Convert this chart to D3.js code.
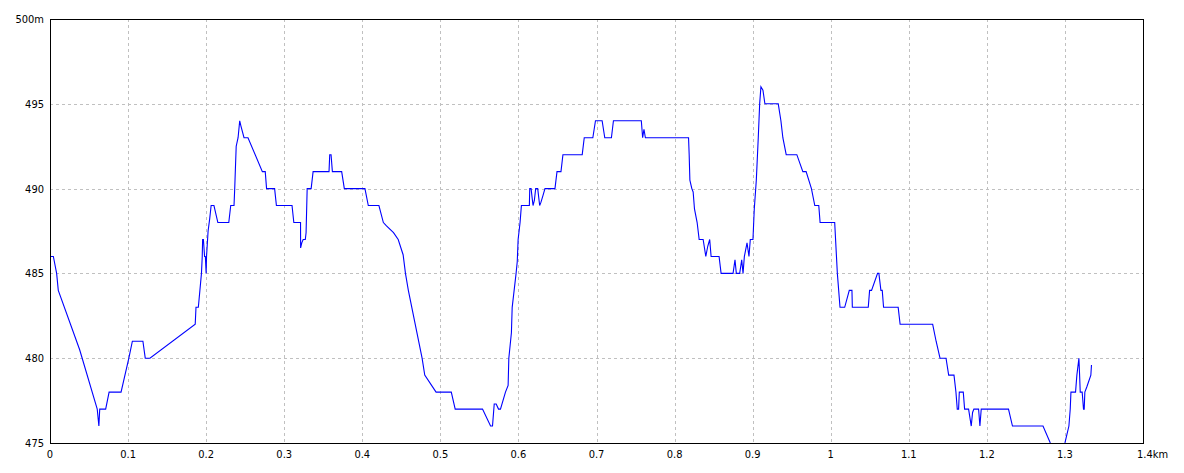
<!DOCTYPE html>
<html><head><meta charset="utf-8">
<script src="https://cdn.jsdelivr.net/npm/d3@7"></script>
<style>
html,body{margin:0;padding:0;background:#fff;}
svg{display:block;}
text{font-family:"DejaVu Sans Condensed","Liberation Sans Narrow","DejaVu Sans",sans-serif;font-size:11px;fill:#000;}
</style></head><body>
<svg id="c" width="1184" height="473"></svg>
<script>
// distance (km) — rows of 10, matching elevM rows
const distKm = [
0,0.0043,0.0085,0.0106,0.038,0.0605,0.0626,0.0637,0.0713,0.0757,
0.091,0.101,0.1055,0.119,0.122,0.128,0.186,0.187,0.19,0.192,
0.194,0.195,0.1955,0.1965,0.198,0.199,0.2,0.2005,0.2025,0.2045,
0.2064,0.21,0.215,0.229,0.2315,0.2357,0.2366,0.2375,0.2385,0.2409,
0.243,0.2445,0.2485,0.2536,0.272,0.2757,0.2774,0.2877,0.29,0.31,
0.3123,0.3209,0.321,0.3225,0.3243,0.327,0.328,0.3294,0.3345,0.337,
0.3574,0.3583,0.36,0.3617,0.3736,0.377,0.4034,0.4077,0.4213,0.427,
0.431,0.44,0.446,0.4523,0.4553,0.459,0.4766,0.48,0.4945,0.514,
0.519,0.554,0.5643,0.5668,0.569,0.5715,0.5745,0.577,0.5834,0.5868,
0.5877,0.591,0.592,0.597,0.5985,0.5996,0.6021,0.6038,0.614,0.6145,
0.6162,0.6187,0.6204,0.6221,0.6247,0.6272,0.6289,0.6315,0.634,0.6468,
0.6494,0.6545,0.657,0.6817,0.6843,0.6953,0.6987,0.7072,0.7106,0.7191,
0.7217,0.7574,0.7591,0.7608,0.7626,0.8179,0.8187,0.8196,0.8221,0.8238,
0.8255,0.8289,0.8315,0.8366,0.84,0.8425,0.845,0.8468,0.857,0.8596,
0.8749,0.8774,0.8791,0.8834,0.886,0.8877,0.8894,0.8928,0.8953,0.897,
0.9004,0.9021,0.9047,0.9072,0.909,0.9106,0.9132,0.9157,0.9328,0.9362,
0.9387,0.943,0.9566,0.9643,0.9685,0.9753,0.9796,0.9847,0.9864,1.0051,
1.0085,1.0119,1.0179,1.0238,1.0272,1.0277,1.0481,1.0498,1.0523,1.06,
1.0617,1.0643,1.066,1.0677,1.0864,1.0889,1.1306,1.135,1.14,1.1477,
1.1511,1.1579,1.1604,1.1621,1.1638,1.1647,1.1698,1.1715,1.1766,1.18,
1.1817,1.1834,1.1894,1.1911,1.1928,1.2277,1.2328,1.2719,1.2813,1.29,
1.3,1.3051,1.3068,1.3077,1.3136,1.3153,1.3179,1.3188,1.3196,1.3221,
1.3238,1.3247,1.3255,1.328,1.3332,1.334
];
// elevation (m)
const elevM = [
486,486,485,484,480.5,477,476,477,477,478,
478,480,481,481,480,480,482,483,483,484,
485,486,487,487,486,486,485,486,487.5,488.2,
489,489,488,488,489,489,490,491.2,492.5,493,
494,493.7,493,493,491,491,490,490,489,489,
488,488,486.5,486.8,487,487,487.4,490,490,491,
491,492,492,491,491,490,490,489,489,488,
487.8,487.4,487,486.1,485,484,480,479,478,478,
477,477,476,476,477.3,477.3,477,477,478,478.4,
480,481.5,483,485,485.7,487,488,489,489,490,
490,489,489.3,490,490,489,489.2,489.6,490,490,
491,491,492,492,493,493,494,494,493,493,
494,494,493,493.5,493,493,492,490.5,490,489.8,
488.8,488,487,487,486,486.6,487,486,486,485,
485,485.8,485,485,485.8,485,486,486.8,486,487,
487,488.8,490.5,493,495,496,495.8,495,495,494,
493,492,492,491,491,490,489,489,488,488,
485,483,483,484,484,483,483,484,484,485,
485,484,484,483,483,482,482,481,480,480,
479,479,478,477,477,478,478,477,477,476,
476.8,477,477,476,477,477,476,476,475,474.5,
475,476,477,478,478,479,480,479,478,478,
477,477,478,478.3,479,479.6
];
const xTicks = [0,0.1,0.2,0.3,0.4,0.5,0.6,0.7,0.8,0.9,1,1.1,1.2,1.3,1.4];
const xTickLabels = ["0","0.1","0.2","0.3","0.4","0.5","0.6","0.7","0.8","0.9","1","1.1","1.2","1.3","1.4km"];
const yTicks = [475,480,485,490,495,500];
const yTickLabels = ["475","480","485","490","495","500m"];

const L=50, R=1143, T=19, B=443;
const svg = d3.select("#c");
const x = d3.scaleLinear().domain([0,1.4]).range([L,R]);
const y = d3.scaleLinear().domain([475,500]).range([B,T]);

// grid
const g = svg.append("g").attr("shape-rendering","crispEdges");
g.selectAll(".vg").data(xTicks.slice(1,-1)).enter().append("line")
  .attr("x1",d=>Math.round(x(d))+0.5).attr("x2",d=>Math.round(x(d))+0.5)
  .attr("y1",T).attr("y2",B).attr("stroke","#c0c0c0").attr("stroke-dasharray","3,3");
g.selectAll(".hg").data(yTicks.slice(1,-1)).enter().append("line")
  .attr("y1",d=>Math.round(y(d))+0.5).attr("y2",d=>Math.round(y(d))+0.5)
  .attr("x1",L).attr("x2",R).attr("stroke","#c0c0c0").attr("stroke-dasharray","3,3");

// clip
svg.append("clipPath").attr("id","cp").append("rect").attr("x",L).attr("y",T).attr("width",R-L).attr("height",B-T);

const n = Math.min(distKm.length, elevM.length);
const data = d3.range(n).map(i=>[distKm[i],elevM[i]]);
const line = d3.line().x(d=>x(d[0])).y(d=>y(d[1]));
svg.append("path").datum(data).attr("d",line).attr("fill","none")
  .attr("stroke","#0000ff").attr("stroke-width",1.1).attr("clip-path","url(#cp)");

// frame
svg.append("rect").attr("x",L+0.5).attr("y",T+0.5).attr("width",R-L).attr("height",B-T)
  .attr("fill","none").attr("stroke","#000").attr("stroke-width",1).attr("shape-rendering","crispEdges");

// axis labels
svg.selectAll(".xl").data(xTicks).enter().append("text")
  .attr("x",(d,i)=> i===xTicks.length-1 ? x(d)-6 : x(d))
  .attr("y",B+15)
  .attr("text-anchor",(d,i)=> i===xTicks.length-1 ? "start" : "middle")
  .text((d,i)=>xTickLabels[i]);
svg.selectAll(".yl").data(yTicks).enter().append("text")
  .attr("x",L-6).attr("y",d=>y(d)+4).attr("text-anchor","end")
  .text((d,i)=>yTickLabels[i]);
</script>
</body></html>
